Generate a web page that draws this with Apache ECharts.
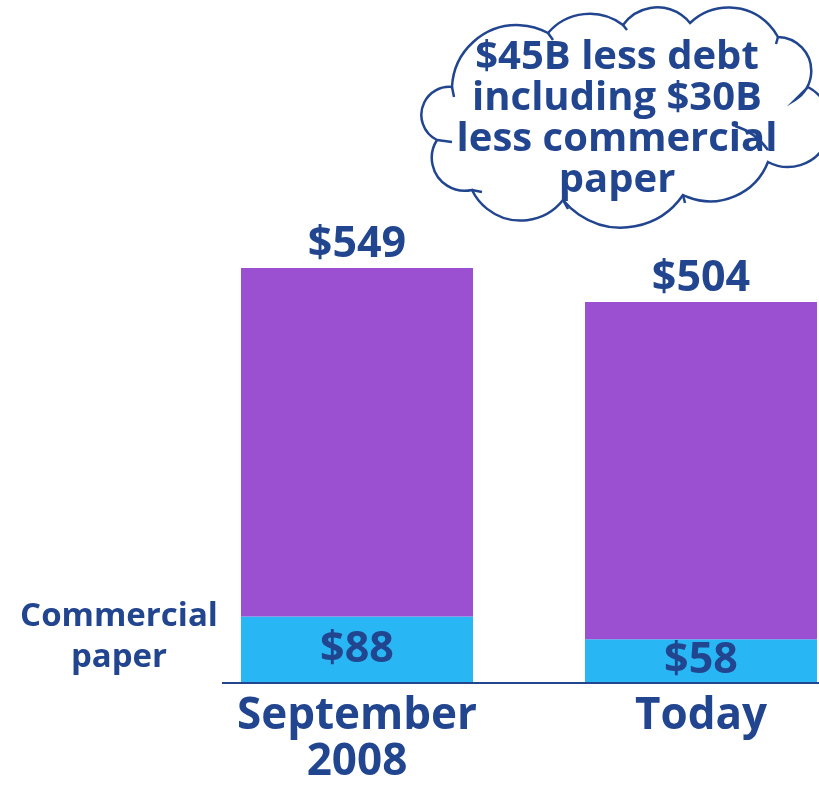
<!DOCTYPE html>
<html>
<head>
<meta charset="utf-8">
<script src="https://cdn.jsdelivr.net/npm/echarts@6/dist/echarts.min.js"></script>
<style>
  html, body { margin: 0; padding: 0; background: #fff; }
  #chart { width: 819px; height: 786px; }
</style>
</head>
<body>
<div id="chart"></div>
<script>
// data ($B)
const categories = ['September\n2008', 'Today'];
const totalDebt = [549, 504];
const commercialPaper = [88, 58];
const otherDebt = totalDebt.map((t, i) => t - commercialPaper[i]);

const cloudText = '$45B less debt\nincluding $30B\nless commercial\npaper';
const sideLabel = 'Commercial\npaper';

const navy = '#22458F';
const fontFamily = '"Open Sans", "DejaVu Sans", sans-serif';

const chart = echarts.init(document.getElementById('chart'));

// cloud outline, bumps drawn as arcs going clockwise
const cloudPath =
  'M452 87 A65 65 0 0 1 548 33' +
  ' A55 55 0 0 1 623 25' +
  ' A42 42 0 0 1 690 23' +
  ' A56 56 0 0 1 778 37' +
  ' A34 34 0 0 1 795 100' +
  ' L808 87 A34 34 0 0 1 768 162' +
  ' A62 62 0 0 1 683 195' +
  ' A75 75 0 0 1 563 200' +
  ' A54 54 0 0 1 472 190' +
  ' A33 33 0 0 1 437 140' +
  ' A28 28 0 0 1 452 87 Z';

// little inner hooks of the cloud shape
const hooksPath =
  'M452 87 L454 97 M548 33 L553 40 M623 25 L627 30 M778 37 L776 44' +
  ' M735 126 Q755 132 768 150 M683 195 L685 203 M563 200 L568 209' +
  ' M472 190 L482 192 M437 140 L452 142';

function renderCloud() {
  return {
    type: 'group',
    children: [
      {
        type: 'path',
        shape: { pathData: cloudPath },
        style: { fill: '#fff', stroke: navy, lineWidth: 2.5 }
      },
      {
        type: 'path',
        shape: { pathData: hooksPath },
        style: { fill: 'none', stroke: navy, lineWidth: 2.5 }
      },
      {
        type: 'text',
        x: 617,
        y: 37,
        style: {
          text: cloudText,
          align: 'center',
          verticalAlign: 'top',
          lineHeight: 41,
          fill: navy,
          font: 'bold 40px ' + fontFamily
        }
      }
    ]
  };
}

chart.setOption({
  backgroundColor: '#fff',
  animation: false,
  // the second bar sits at the right edge, so the grid runs past the canvas
  grid: { left: 185, right: -54, top: 154, bottom: 103, outerBoundsMode: 'none', containLabel: false },
  xAxis: {
    type: 'category',
    data: categories,
    axisLine: { show: false },
    axisTick: { show: false },
    axisLabel: {
      color: navy,
      fontFamily: fontFamily,
      fontWeight: 'bold',
      fontSize: 44,
      lineHeight: 46,
      margin: 10
    }
  },
  yAxis: {
    type: 'value',
    min: 0,
    max: 700,
    show: false,
    splitLine: { show: false }
  },
  series: [
    {
      name: 'Commercial paper',
      type: 'bar',
      stack: 'debt',
      barWidth: 232,
      data: commercialPaper,
      itemStyle: { color: '#29B6F4' },
      label: {
        show: true,
        position: 'inside',
        formatter: p => '$' + p.value,
        color: navy,
        fontFamily: fontFamily,
        fontWeight: 'bold',
        fontSize: 43
      }
    },
    {
      name: 'Other debt',
      type: 'bar',
      stack: 'debt',
      barWidth: 232,
      data: otherDebt,
      itemStyle: { color: '#9B4FD1' },
      label: {
        show: true,
        position: 'top',
        distance: 2,
        formatter: p => '$' + totalDebt[p.dataIndex],
        color: navy,
        fontFamily: fontFamily,
        fontWeight: 'bold',
        fontSize: 43
      }
    },
    {
      name: 'callout',
      type: 'custom',
      coordinateSystem: 'none',
      data: [0],
      z: 20,
      silent: true,
      renderItem: renderCloud
    }
  ],
  graphic: [
    {
      type: 'line',
      shape: { x1: 222, y1: 683, x2: 819, y2: 683 },
      style: { stroke: navy, lineWidth: 2 },
      z: 10
    },
    {
      type: 'text',
      x: 119,
      y: 596,
      style: {
        text: sideLabel,
        align: 'center',
        verticalAlign: 'top',
        lineHeight: 41,
        fill: navy,
        font: 'bold 33px ' + fontFamily
      }
    }
  ]
});
</script>
</body>
</html>
